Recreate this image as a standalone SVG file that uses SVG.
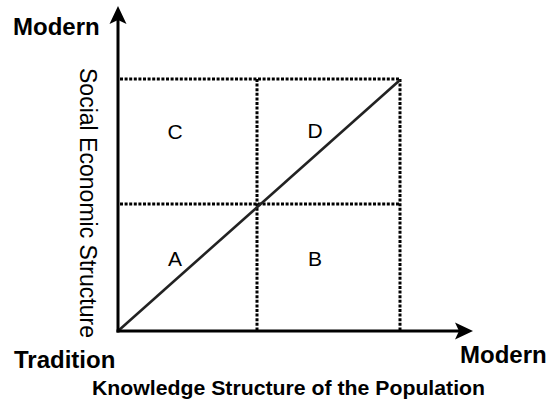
<svg xmlns="http://www.w3.org/2000/svg" width="552" height="403" viewBox="0 0 552 403">
<style>
.axis{stroke:#000;stroke-width:3;fill:none}
.grid{stroke:#000;stroke-width:3;stroke-dasharray:3,1.6;fill:none}
.diag{stroke:#222;stroke-width:2.6;fill:none}
.head{fill:#000}
.big{font-family:"Liberation Sans",Arial,sans-serif;font-weight:bold;font-size:24px;fill:#000}
.cap{font-family:"Liberation Sans",Arial,sans-serif;font-weight:bold;font-size:20.5px;fill:#000}
.lbl{font-family:"Liberation Sans",Arial,sans-serif;font-size:21px;fill:#000}
.ylab{font-family:"Liberation Sans",Arial,sans-serif;font-size:23px;fill:#000}
</style>
<rect width="552" height="403" fill="#fff"/>
<g id="connectors">
<line class="grid" x1="120" y1="79" x2="400" y2="79"/>
<line class="grid" x1="400" y1="79" x2="400" y2="330"/>
<line class="grid" x1="120" y1="204" x2="400" y2="204"/>
<line class="grid" x1="257" y1="79" x2="257" y2="330"/>
<line class="diag" x1="118" y1="331" x2="400" y2="80"/>
<line class="axis" x1="118" y1="332.5" x2="118" y2="18"/>
<polygon class="head" points="118,6 126.5,24 118,20 109.5,24"/>
<line class="axis" x1="116.5" y1="331" x2="460" y2="331"/>
<polygon class="head" points="473,331 455,339.5 459,331 455,322.5"/>
</g>
<g id="label-modern-y"><text class="big" x="13" y="35">Modern</text></g>
<g id="label-tradition"><text class="big" x="14" y="368">Tradition</text></g>
<g id="label-modern-x"><text class="big" x="460" y="363">Modern</text></g>
<g id="label-x-title"><text class="cap" x="92" y="395" textLength="393" lengthAdjust="spacingAndGlyphs">Knowledge Structure of the Population</text></g>
<g id="label-y-title"><text class="ylab" transform="translate(80,203) rotate(90)" text-anchor="middle" textLength="270" lengthAdjust="spacingAndGlyphs">Social Economic Structure</text></g>
<g id="quad-A"><text class="lbl" x="175" y="265.5" text-anchor="middle">A</text></g>
<g id="quad-B"><text class="lbl" x="315" y="265.5" text-anchor="middle">B</text></g>
<g id="quad-C"><text class="lbl" x="175" y="138.5" text-anchor="middle">C</text></g>
<g id="quad-D"><text class="lbl" x="315" y="138" text-anchor="middle">D</text></g>
</svg>
